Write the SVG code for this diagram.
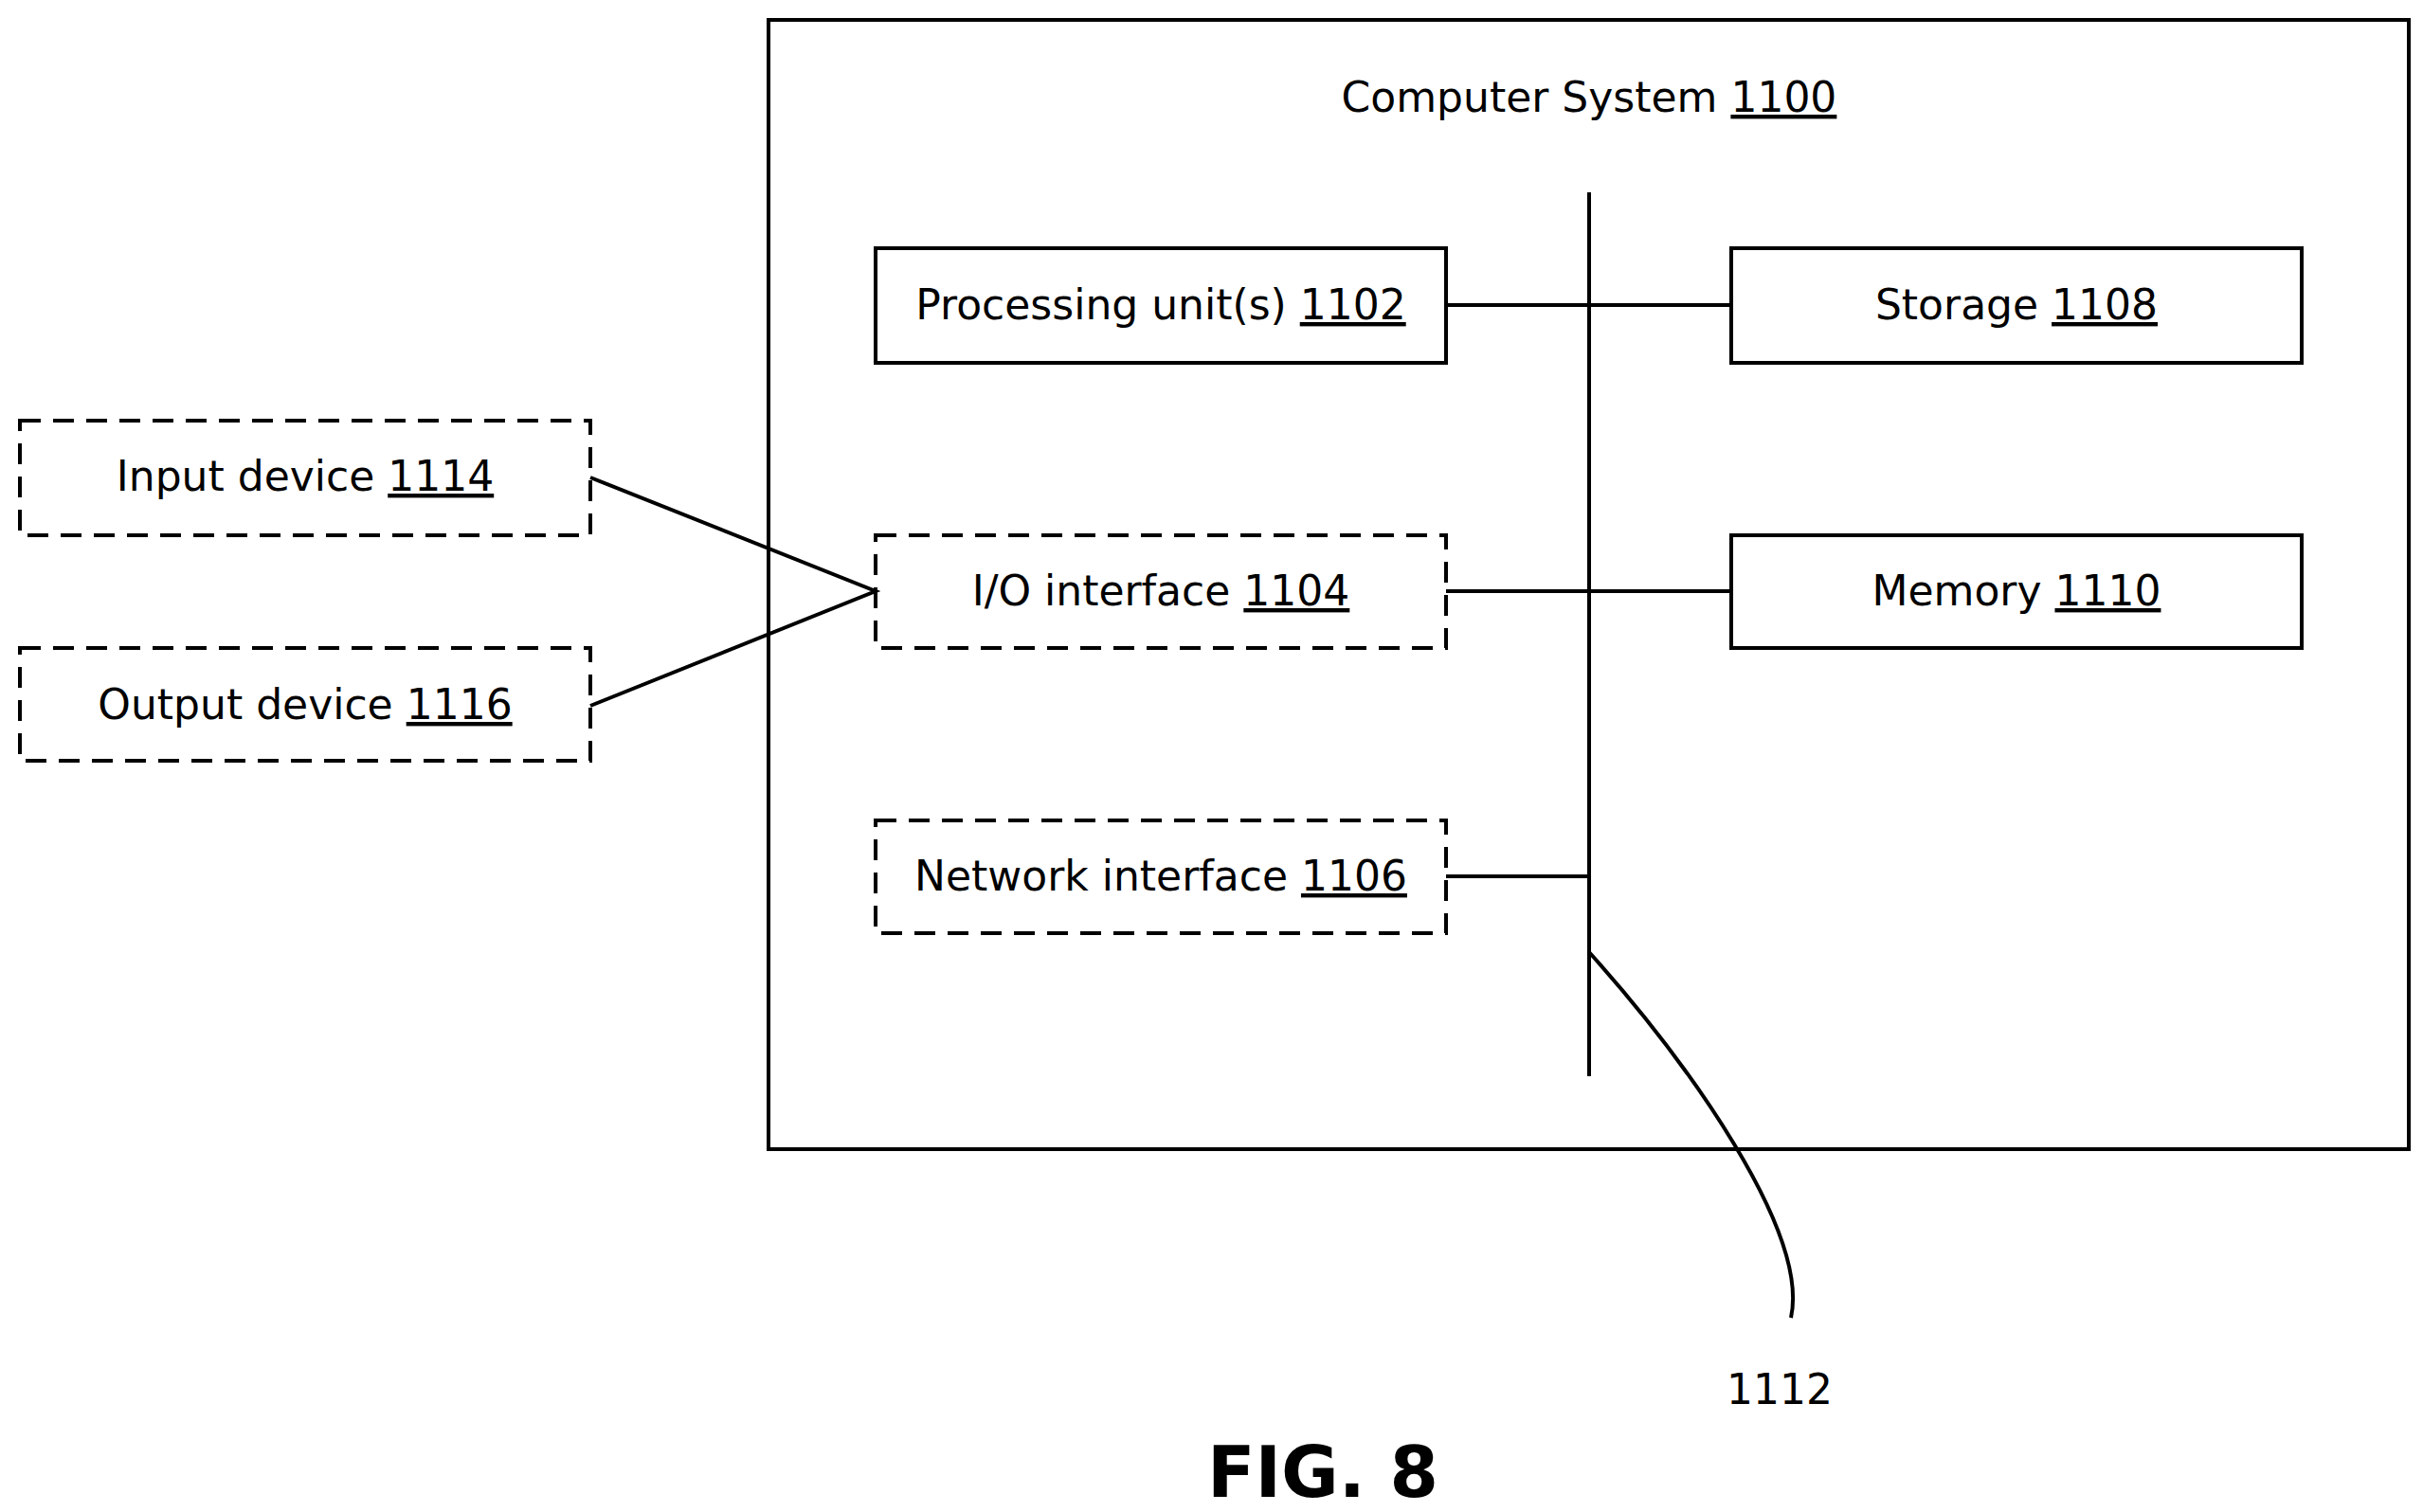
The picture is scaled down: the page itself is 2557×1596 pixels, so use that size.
<svg xmlns="http://www.w3.org/2000/svg" width="2557" height="1596" viewBox="0 0 2557 1596">
<style>
.b{fill:none;stroke:#000;stroke-width:4}
.d{fill:none;stroke:#000;stroke-width:4;stroke-dasharray:22 13}
.l{fill:none;stroke:#000;stroke-width:4}
text{font-family:"DejaVu Sans",Verdana,sans-serif;font-size:44px;fill:#000;text-anchor:middle}
.u{text-decoration:underline}
</style>
<rect width="2557" height="1596" fill="#fff"/>
<g id="system"><rect class="b" x="811" y="21" width="1731" height="1192"/><text x="1677" y="118">Computer System <tspan class="u">1100</tspan></text></g>
<g id="connectors">
<line class="l" x1="1677" y1="203" x2="1677" y2="1136"/>
<line class="l" x1="1526" y1="322" x2="1827" y2="322"/>
<line class="l" x1="1526" y1="624" x2="1827" y2="624"/>
<line class="l" x1="1526" y1="925" x2="1677" y2="925"/>
<polyline class="l" points="623,504 924,624 623,745"/>
<path class="l" d="M1677,1005 C1780,1120 1910,1300 1890,1391"/>
</g>
<g id="proc"><rect class="b" x="924" y="262" width="602" height="121"/><text x="1225" y="337">Processing unit(s) <tspan class="u">1102</tspan></text></g>
<g id="storage"><rect class="b" x="1827" y="262" width="602" height="121"/><text x="2128" y="337">Storage <tspan class="u">1108</tspan></text></g>
<g id="io"><rect class="d" x="924" y="565" width="602" height="119"/><text x="1225" y="639">I/O interface <tspan class="u">1104</tspan></text></g>
<g id="memory"><rect class="b" x="1827" y="565" width="602" height="119"/><text x="2128" y="639">Memory <tspan class="u">1110</tspan></text></g>
<g id="net"><rect class="d" x="924" y="866" width="602" height="119"/><text x="1225" y="940">Network interface <tspan class="u">1106</tspan></text></g>
<g id="input"><rect class="d" x="21" y="444" width="602" height="121"/><text x="322" y="518">Input device <tspan class="u">1114</tspan></text></g>
<g id="output"><rect class="d" x="21" y="684" width="602" height="119"/><text x="322" y="759">Output device <tspan class="u">1116</tspan></text></g>
<text x="1878" y="1482">1112</text>
<text x="1396" y="1580" style="font-size:74px;font-weight:bold">FIG. 8</text>
</svg>
